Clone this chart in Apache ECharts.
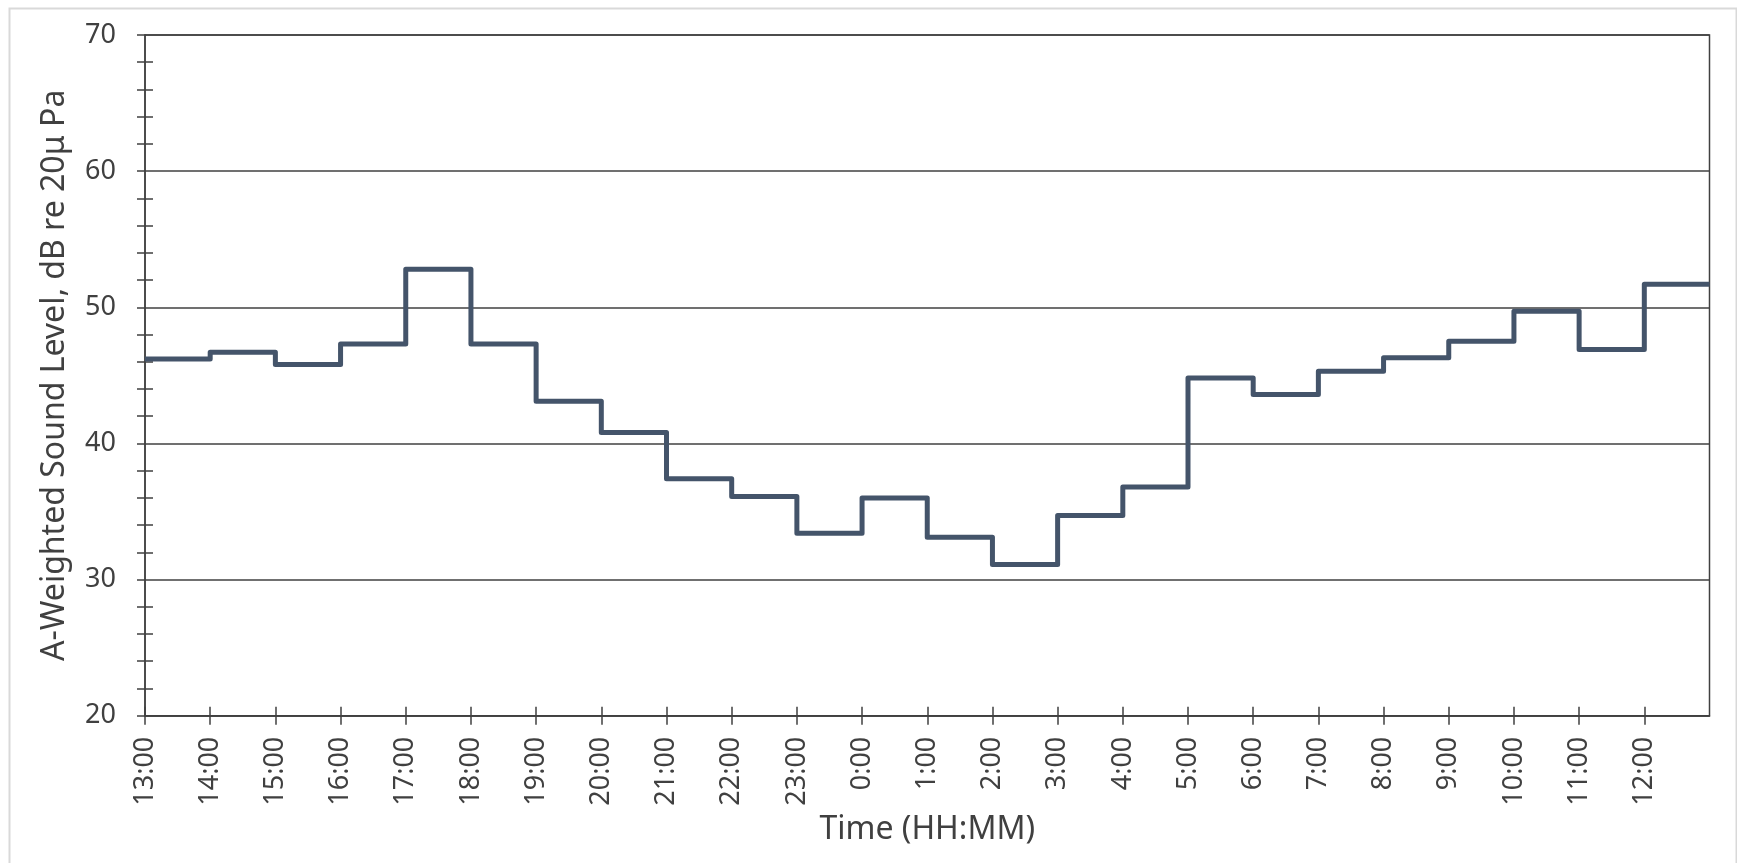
<!DOCTYPE html>
<html>
<head>
<meta charset="utf-8">
<script src="https://cdn.jsdelivr.net/npm/echarts@6/dist/echarts.min.js"></script>
<style>
  html, body { margin: 0; padding: 0; background: #ffffff; }
  #chart { width: 1737px; height: 863px; }
</style>
</head>
<body>
<div id="chart"></div>
<script>
// ---- Data ----
const timeLabels = ['13:00','14:00','15:00','16:00','17:00','18:00','19:00','20:00','21:00','22:00','23:00',
  '0:00','1:00','2:00','3:00','4:00','5:00','6:00','7:00','8:00','9:00','10:00','11:00','12:00'];
const soundLevels = [46.2, 46.7, 45.8, 47.3, 52.8, 47.3, 43.1, 40.8, 37.4, 36.1, 33.4,
  36.0, 33.1, 31.1, 34.7, 36.8, 44.8, 43.6, 45.3, 46.3, 47.5, 49.7, 46.9, 51.7];
const yMin = 20, yMax = 70, yStep = 10;
const xAxisTitle = 'Time (HH:MM)';
const yAxisTitle = 'A-Weighted Sound Level, dB re 20\u03bc Pa';

// ---- Build ----
const hourIdx = timeLabels.map((_, i) => i);
const stepData = soundLevels.map((v, i) => [i, v]);
stepData.push([timeLabels.length, soundLevels[soundLevels.length - 1]]);

const ink = '#404040';
const font = '"Noto Sans", "Open Sans", sans-serif';

const chart = echarts.init(document.getElementById('chart'), null, { renderer: 'canvas' });
chart.setOption({
  animation: false,
  backgroundColor: '#ffffff',
  graphic: [{
    type: 'rect', left: 7, top: 6, silent: true,
    shape: { width: 1727, height: 870 },
    style: { fill: 'none', stroke: '#d9d9d9', lineWidth: 2 }
  }],
  grid: {
    left: 145, right: 27.5, top: 35, bottom: 147.3,
    show: true, borderColor: ink, borderWidth: 1.5, backgroundColor: 'transparent',
    outerBoundsMode: 'none'
  },
  xAxis: [{
    type: 'value', min: 0, max: timeLabels.length, interval: 1,
    position: 'bottom',
    axisLine: { show: true, onZero: false, lineStyle: { color: ink, width: 1.5 } },
    axisTick: { show: true, length: 9, customValues: hourIdx, lineStyle: { color: ink, width: 1.5 } },
    axisLabel: {
      show: true, rotate: 90, margin: 21, customValues: hourIdx,
      formatter: v => timeLabels[v] ?? '',
      color: ink, fontFamily: font, fontSize: 27
    },
    splitLine: { show: false },
    name: xAxisTitle, nameLocation: 'middle', nameGap: 97,
    nameTextStyle: { color: ink, fontFamily: font, fontSize: 32 }
  }, {
    type: 'value', min: 0, max: timeLabels.length, interval: 1,
    position: 'bottom',
    axisLine: { show: false, onZero: false },
    axisTick: { show: true, inside: true, length: 9, customValues: hourIdx, lineStyle: { color: ink, width: 1.5 } },
    axisLabel: { show: false },
    splitLine: { show: false }
  }],
  yAxis: [{
    type: 'value', min: yMin, max: yMax, interval: yStep,
    position: 'left',
    axisLine: { show: true, onZero: false, lineStyle: { color: ink, width: 1.5 } },
    axisTick: { show: true, length: 8, lineStyle: { color: ink, width: 1.5 } },
    minorTick: { show: true, splitNumber: 5, length: 8, lineStyle: { color: ink, width: 1.5 } },
    axisLabel: { show: true, margin: 29, color: ink, fontFamily: font, fontSize: 27 },
    splitLine: { show: true, lineStyle: { color: ink, width: 1.5 } },
    name: yAxisTitle, nameLocation: 'middle', nameGap: 74,
    nameTextStyle: { color: ink, fontFamily: font, fontSize: 32 }
  }, {
    type: 'value', min: yMin, max: yMax, interval: yStep,
    position: 'left',
    axisLine: { show: false, onZero: false },
    axisTick: { show: false, inside: true, length: 8 },
    minorTick: { show: true, splitNumber: 5, length: 8, lineStyle: { color: ink, width: 1.5 } },
    axisLabel: { show: false },
    splitLine: { show: false }
  }],
  series: [{
    type: 'line',
    xAxisIndex: 0, yAxisIndex: 0,
    step: 'end',
    data: stepData,
    showSymbol: false,
    symbol: 'none',
    lineStyle: { color: '#44546a', width: 5, join: 'round', cap: 'butt' },
    itemStyle: { color: '#44546a' }
  }]
});
</script>
</body>
</html>
